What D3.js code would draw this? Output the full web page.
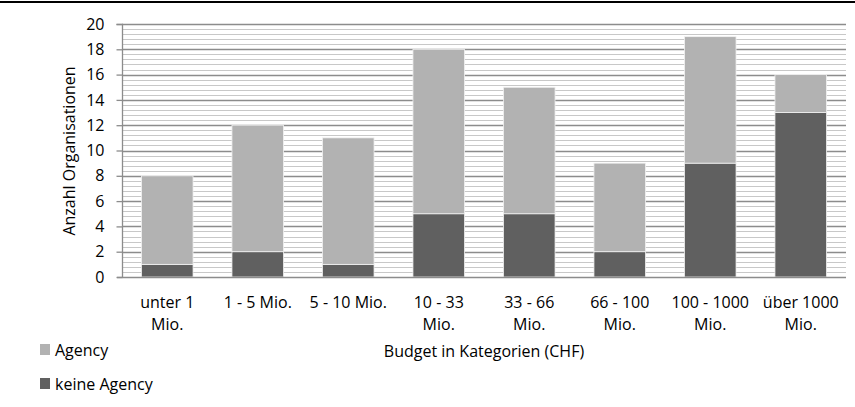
<!DOCTYPE html>
<html>
<head>
<meta charset="utf-8">
<script src="https://cdn.jsdelivr.net/npm/d3@7"></script>
<style>
  html, body { margin: 0; padding: 0; background: #fff; }
  svg { display: block; }
  text { font-family: "Open Sans", Lato, sans-serif; fill: #000; }
</style>
</head>
<body>
<svg id="chart" width="855" height="407"></svg>
<script>
// Budget categories (two-line labels)
const categories = [
  ["unter 1", "Mio."],
  ["1 - 5 Mio."],
  ["5 - 10 Mio."],
  ["10 - 33", "Mio."],
  ["33 - 66", "Mio."],
  ["66 - 100", "Mio."],
  ["100 - 1000", "Mio."],
  ["über 1000", "Mio."]
];
// Organisations without an agency (bottom segment)
const keineAgency = [1, 2, 1, 5, 5, 2, 9, 13];
// Organisations with an agency (stacked on top)
const agency = [7, 10, 10, 13, 10, 7, 10, 3];
const yTicks = [0, 2, 4, 6, 8, 10, 12, 14, 16, 18, 20];

const seriesNames = ["keine Agency", "Agency"];
const colors = { "keine Agency": "#606060", "Agency": "#b2b2b2" };
const FS = 16;

const svg = d3.select("#chart");
const margin = { left: 122, right: 9, top: 24, bottom: 130 };
const W = 855, H = 407;
const x0 = margin.left, x1 = W - margin.right;
const yTop = margin.top, yBot = H - margin.bottom;

const rows = categories.map((c, i) => ({
  key: i, label: c, "keine Agency": keineAgency[i], "Agency": agency[i]
}));

const x = d3.scaleBand().domain(rows.map(r => r.key)).range([x0, x1]).paddingInner(0.43).paddingOuter(0.215);
const y = d3.scaleLinear().domain([0, 20]).range([yBot, yTop]);

// Top rule across the page
svg.append("line").attr("x1", 0).attr("x2", W).attr("y1", 2).attr("y2", 2)
  .attr("stroke", "#000").attr("stroke-width", 2);

// Minor gridlines every 0.4
const minor = d3.range(0, 20.001, 0.4).filter(v => Math.abs(v / 2 - Math.round(v / 2)) > 1e-6);
svg.append("g").selectAll("line").data(minor).join("line")
  .attr("x1", x0).attr("x2", x1)
  .attr("y1", d => Math.round(y(d)) + 0.5).attr("y2", d => Math.round(y(d)) + 0.5)
  .attr("stroke", "#c8c8c8").attr("stroke-width", 1);

// Major gridlines
svg.append("g").selectAll("line").data(yTicks.filter(d => d > 0)).join("line")
  .attr("x1", x0).attr("x2", x1)
  .attr("y1", d => Math.round(y(d)) + 0.5).attr("y2", d => Math.round(y(d)) + 0.5)
  .attr("stroke", "#8c8c8c").attr("stroke-width", 1.3);

// Stacked bars
const stack = d3.stack().keys(seriesNames)(rows);
svg.append("g").selectAll("g").data(stack).join("g")
  .attr("fill", d => colors[d.key])
  .selectAll("rect").data(d => d).join("rect")
  .attr("x", d => x(d.data.key))
  .attr("width", x.bandwidth())
  .attr("y", d => y(d[1]))
  .attr("height", d => y(d[0]) - y(d[1]))
  .attr("stroke", "#f2f2f2").attr("stroke-width", 0.8);

// Y axis
const yAxis = d3.axisLeft(y).tickValues(yTicks).tickSize(6).tickPadding(12).tickFormat(d3.format("d"));
const gy = svg.append("g").attr("transform", `translate(${x0 + 0.5},0)`).call(yAxis);
gy.select(".domain").attr("stroke", "#8c8c8c").attr("stroke-width", 1.3).attr("d", `M-6,${yTop + 0.5}H0V${yBot + 0.5}`);
gy.selectAll(".tick line").attr("stroke", "#8c8c8c").attr("stroke-width", 1.3);
gy.selectAll(".tick text").attr("font-size", FS).attr("font-family", "'Open Sans', sans-serif").attr("fill", "#000");

// X axis line
svg.append("line").attr("x1", x0 - 5).attr("x2", x1).attr("y1", yBot + 0.5).attr("y2", yBot + 0.5)
  .attr("stroke", "#8c8c8c").attr("stroke-width", 1.5);

// Category labels
const xl = svg.append("g").selectAll("text").data(rows).join("text")
  .attr("x", d => x(d.key) + x.bandwidth() / 2)
  .attr("y", 308)
  .attr("text-anchor", "middle")
  .attr("font-size", FS);
xl.selectAll("tspan").data(d => d.label.map(l => ({ l, cx: x(d.key) + x.bandwidth() / 2 }))).join("tspan")
  .attr("x", d => d.cx)
  .attr("dy", (d, i) => i === 0 ? 0 : 22)
  .text(d => d.l);

// Axis titles
svg.append("text").attr("x", 484).attr("y", 357).attr("text-anchor", "middle")
  .attr("font-size", FS).text("Budget in Kategorien (CHF)");
svg.append("text").attr("transform", "translate(75,151) rotate(-90)").attr("text-anchor", "middle")
  .attr("font-size", FS).text("Anzahl Organisationen");

// Legend
const legend = [
  { name: "Agency", y: 355 },
  { name: "keine Agency", y: 389 }
];
const lg = svg.append("g").selectAll("g").data(legend).join("g");
lg.append("rect").attr("x", 40).attr("y", d => d.y - 11).attr("width", 10).attr("height", 11)
  .attr("fill", d => colors[d.name]);
lg.append("text").attr("x", 55).attr("y", d => d.y + 1).attr("font-size", FS).text(d => d.name);
</script>
</body>
</html>
